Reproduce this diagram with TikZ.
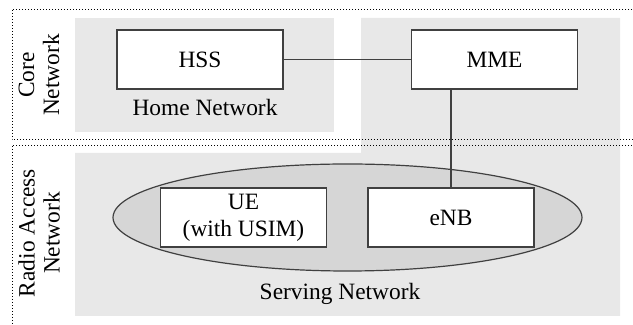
\documentclass[tikz,border=0pt]{standalone}
\usepackage{fontspec}
\setmainfont{Liberation Serif}
\begin{document}
\begin{tikzpicture}[x=0.5pt, y=-0.5pt,
    entity/.style={draw=black!75, fill=white, line width=0.6pt, minimum width=83pt, minimum height=29.5pt, font=\fontsize{11.7}{13.5}\selectfont, align=center, inner sep=0pt},
    netarea/.style={fill=black!9},
    layer/.style={draw=black, densely dotted, line width=0.5pt},
    tag/.style={font=\fontsize{11.7}{12.5}\selectfont, align=center}]
    \useasboundingbox (0,0) rectangle (633,325);
    \clip (0,0) rectangle (633,325);
    % grey areas
    \fill[netarea] (75,18) rectangle (334,132);
    \fill[netarea] (361,18) -- (620,18) -- (620,316) -- (75,316) -- (75,153) -- (361,153) -- cycle;
    % dotted layers
    \draw[layer] (12,10) rectangle (660,140);
    \draw[layer] (12,146) rectangle (660,345);
    \node[tag, rotate=90] (core) at (39,75) {Core\\Network};
    \node[tag, rotate=90] (ran) at (39,233) {Radio Access\\Network};
    % ellipse of the serving network
    \draw[draw=black!75, fill=black!16, line width=0.6pt] (347.5,217.5) ellipse [x radius=234.5, y radius=53.5];
    \node[entity] (HSS) at (200,59.5) {HSS};
    \node[entity] (MME) at (494.5,59.5) {MME};
    \node[entity] (UE) at (243.5,217.5) {UE\\(with USIM)};
    \node[entity] (eNB) at (451,217.5) {eNB};
    \node[tag] (home) at (205,108) {Home Network};
    \node[tag] (serving) at (340,294) {Serving Network};
    \draw[black!75, line width=0.6pt] (HSS) -- (MME);
    \draw[black!75, line width=0.6pt] (eNB.north) -- (eNB.north |- MME.south);
\end{tikzpicture}
\end{document}
